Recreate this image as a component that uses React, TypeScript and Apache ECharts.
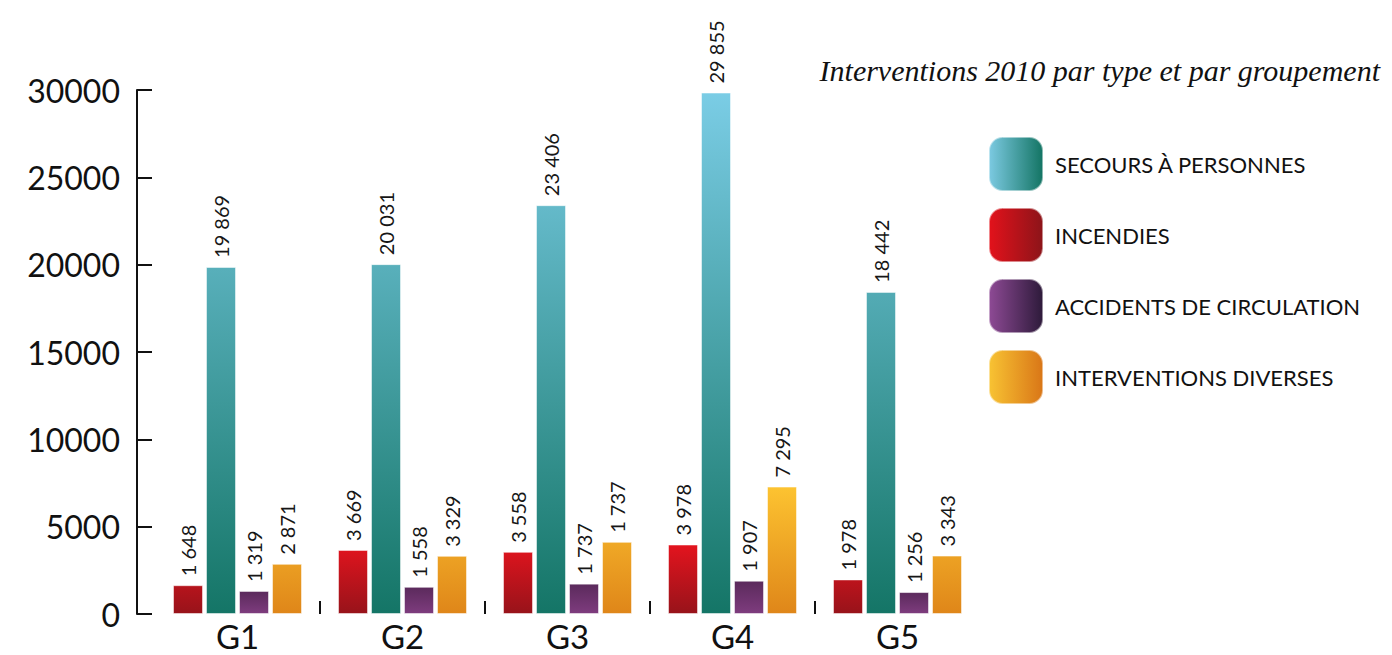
import React, { useEffect, useRef } from "react";
import * as echarts from "echarts";

const categories = ["G1", "G2", "G3", "G4", "G5"];
const incendies = [1648, 3669, 3558, 3978, 1978];
const secours = [19869, 20031, 23406, 29855, 18442];
const accidents = [1319, 1558, 1737, 1907, 1256];
const diverses = [2871, 3329, 4130, 7295, 3343];
const incendiesLabels = ["1 648", "3 669", "3 558", "3 978", "1 978"];
const secoursLabels = ["19 869", "20 031", "23 406", "29 855", "18 442"];
const accidentsLabels = ["1 319", "1 558", "1 737", "1 907", "1 256"];
const diversesLabels = ["2 871", "3 329", "1 737", "7 295", "3 343"];
const groupSeparators = [1, 2, 3, 4];
const yMin = 0;
const yMax = 30000;
const yInterval = 5000;

const titleText = "Interventions 2010 par type et par groupement";
const nameSecours = "SECOURS À PERSONNES";
const nameIncendies = "INCENDIES";
const nameAccidents = "ACCIDENTS DE CIRCULATION";
const nameDiverses = "INTERVENTIONS DIVERSES";

const FONT = "Lato";

export default function App() {
  const ref = useRef<HTMLDivElement>(null);
  useEffect(() => {
    document.body.style.margin = "0";
    if (!ref.current) return;
    const chart = echarts.init(ref.current, null, { renderer: "svg" });
    const G = echarts.graphic.LinearGradient;
    const hGrad = (a: string, b: string) =>
      new G(0, 0, 1, 0, [
        { offset: 0, color: a },
        { offset: 1, color: b },
      ]);
    const labelsBySeries = [incendiesLabels, secoursLabels, accidentsLabels, diversesLabels];
    const label = {
      show: true,
      position: "top",
      rotate: 90,
      align: "left",
      verticalAlign: "middle",
      distance: 9,
      fontFamily: FONT,
      fontSize: 20,
      color: "#161616",
      formatter: (p: any) => labelsBySeries[p.seriesIndex][p.dataIndex],
    };
    const option: any = {
      animation: false,
      backgroundColor: "#ffffff",
      title: {
        text: titleText,
        right: 7,
        top: 50,
        textStyle: {
          fontFamily: "Liberation Serif",
          fontStyle: "italic",
          fontWeight: "normal",
          fontSize: 30,
          color: "#111",
        },
      },
      legend: {
        orient: "vertical",
        left: 988,
        top: 136,
        itemWidth: 54,
        itemHeight: 54,
        itemGap: 15,
        padding: 0,
        icon: "roundRect",
        selectedMode: false,
        textStyle: {
          fontFamily: FONT,
          fontSize: 22,
          color: "#111",
          padding: [0, 0, 0, 7],
        },
        data: [
          { name: nameSecours, itemStyle: { color: hGrad("#7CCAE2", "#137463") } },
          { name: nameIncendies, itemStyle: { color: hGrad("#E3121B", "#8C1419") } },
          { name: nameAccidents, itemStyle: { color: hGrad("#8E4A95", "#2D1A3A") } },
          { name: nameDiverses, itemStyle: { color: hGrad("#F8C333", "#D97617") } },
        ],
      },
      grid: { left: 155, right: 412, top: 90, bottom: 41 },
      xAxis: [
        {
          type: "category",
          data: categories,
          axisLine: { show: false },
          axisTick: { show: false },
          axisLabel: { fontFamily: FONT, fontSize: 33, color: "#111", margin: 5 },
          splitLine: { show: false },
        },
        {
          type: "value",
          position: "bottom",
          min: 0,
          max: categories.length,
          axisLine: { show: false },
          axisLabel: { show: false },
          splitLine: { show: false },
          axisTick: {
            show: true,
            inside: true,
            length: 13,
            customValues: groupSeparators,
            lineStyle: { color: "#111", width: 2 },
          },
        },
      ],
      yAxis: {
        type: "value",
        min: yMin,
        max: yMax,
        interval: yInterval,
        offset: 18,
        axisLine: { show: true, onZero: false, lineStyle: { color: "#111", width: 2 } },
        axisTick: { show: true, inside: true, length: 15, lineStyle: { color: "#111", width: 2 } },
        splitLine: { show: false },
        axisLabel: {
          fontFamily: FONT,
          fontSize: 32,
          color: "#111",
          margin: 17,
          formatter: (v: number) => String(v),
        },
      },
      series: [
        {
          name: nameIncendies,
          type: "bar",
          barWidth: 30,
          barGap: "10%",
          data: incendies,
          label,
          itemStyle: {
            color: new G(0, 545, 0, 614, [
              { offset: 0, color: "#E3141E" },
              { offset: 1, color: "#97131A" },
            ], true),
            borderColor: "rgba(255,255,255,0.5)",
            borderWidth: 1,
          },
        },
        {
          name: nameSecours,
          type: "bar",
          barWidth: 30,
          barGap: "10%",
          data: secours,
          label,
          itemStyle: {
            color: new G(0, 90, 0, 614, [
              { offset: 0, color: "#7BCDE6" },
              { offset: 1, color: "#147566" },
            ], true),
            borderColor: "rgba(255,255,255,0.5)",
            borderWidth: 1,
          },
        },
        {
          name: nameAccidents,
          type: "bar",
          barWidth: 30,
          barGap: "10%",
          data: accidents,
          label,
          itemStyle: {
            color: new G(0, 0, 0, 1, [
              { offset: 0, color: "#5B2A5C" },
              { offset: 1, color: "#7E3C7E" },
            ]),
            borderColor: "rgba(255,255,255,0.5)",
            borderWidth: 1,
          },
        },
        {
          name: nameDiverses,
          type: "bar",
          barWidth: 30,
          barGap: "10%",
          data: diverses,
          label,
          itemStyle: {
            color: new G(0, 485, 0, 614, [
              { offset: 0, color: "#FDC431" },
              { offset: 1, color: "#DF8619" },
            ], true),
            borderColor: "rgba(255,255,255,0.5)",
            borderWidth: 1,
          },
        },
      ],
    };
    chart.setOption(option);
    return () => chart.dispose();
  }, []);
  return <div ref={ref} style={{ width: 1392, height: 655 }} />;
}
